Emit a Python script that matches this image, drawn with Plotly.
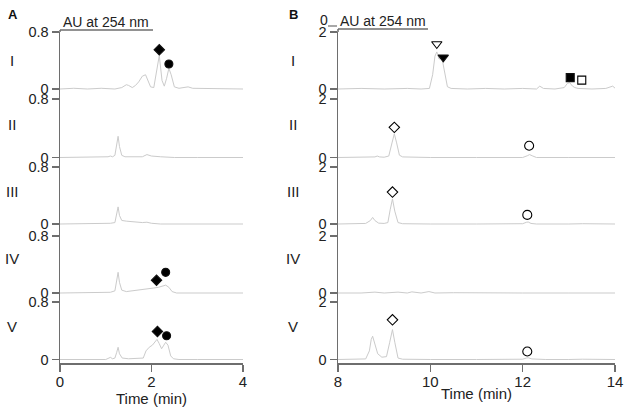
import plotly.graph_objects as go

# ---------------- DATA ----------------
row_labels = ["I", "II", "III", "IV", "V"]

# Panel A (0-4 min), AU at 254 nm
a1_t = [0, 0.3, 0.6, 0.9, 1.2, 1.35, 1.45, 1.5, 1.58, 1.65, 1.72, 1.8, 1.87, 1.93, 1.98, 2.05, 2.1, 2.17, 2.23, 2.28, 2.33, 2.38, 2.43, 2.5, 2.6, 2.8, 2.9, 3.0, 3.3, 3.6, 4.0]
a1_v = [0, 0.01, 0.0, 0.01, 0.0, 0.02, 0.06, 0.05, 0.02, 0.05, 0.1, 0.18, 0.2, 0.12, 0.03, 0.02, 0.2, 0.47, 0.12, 0.04, 0.15, 0.29, 0.2, 0.03, 0.01, 0.03, 0.01, 0.01, 0.0, 0.01, 0.0]

a2_t = [0, 0.5, 1.0, 1.05, 1.1, 1.15, 1.2, 1.24, 1.27, 1.3, 1.35, 1.42, 1.55, 1.8, 1.9, 2.0, 2.2, 2.5, 3.0, 3.5, 4.0]
a2_v = [0, 0, 0, 0.01, 0.02, 0.01, 0.03, 0.18, 0.29, 0.15, 0.03, 0.01, 0.01, 0.01, 0.04, 0.02, 0.01, 0, 0, 0, 0]

a3_t = [0, 0.5, 1.0, 1.1, 1.2, 1.24, 1.27, 1.3, 1.35, 1.45, 1.6, 1.8, 1.9, 2.0, 2.2, 2.5, 3.0, 3.5, 4.0]
a3_v = [0, 0, 0, 0.01, 0.02, 0.15, 0.24, 0.12, 0.05, 0.04, 0.03, 0.02, 0.025, 0.01, 0.0, 0, 0, 0, 0]

a4_t = [0, 0.5, 1.0, 1.1, 1.2, 1.24, 1.27, 1.3, 1.35, 1.45, 1.6, 1.8, 1.95, 2.05, 2.15, 2.25, 2.31, 2.38, 2.45, 2.55, 3.0, 3.5, 4.0]
a4_v = [0, 0, 0, 0.01, 0.03, 0.2, 0.29, 0.15, 0.04, 0.02, 0.03, 0.05, 0.06, 0.07, 0.08, 0.1, 0.11, 0.08, 0.02, 0.0, 0, 0, 0]

a5_t = [0, 0.5, 1.0, 1.07, 1.1, 1.15, 1.2, 1.24, 1.27, 1.3, 1.36, 1.5, 1.7, 1.82, 1.88, 1.95, 2.02, 2.08, 2.12, 2.17, 2.22, 2.27, 2.31, 2.36, 2.42, 2.48, 2.6, 3.0, 3.5, 4.0]
a5_v = [0, 0, 0, 0.02, 0.03, 0.01, 0.02, 0.1, 0.17, 0.08, 0.02, 0.01, 0.01, 0.02, 0.12, 0.17, 0.2, 0.25, 0.28, 0.22, 0.15, 0.2, 0.24, 0.2, 0.05, 0.01, 0, 0, 0, 0]

# Panel B (8-14 min)
b1_t = [8, 8.5, 9, 9.5, 9.8, 9.98, 10.05, 10.1, 10.14, 10.19, 10.25, 10.31, 10.37, 10.45, 10.6, 10.8, 11.2, 11.6, 12.0, 12.3, 12.37, 12.45, 12.7, 12.9, 12.97, 13.02, 13.08, 13.13, 13.2, 13.5, 13.8, 13.9, 13.95, 14.0]
b1_v = [0, 0.02, 0, 0.02, 0, 0.02, 0.5, 1.15, 1.3, 1.05, 1.1, 0.55, 0.08, 0.02, 0.01, 0.0, 0.02, 0.0, 0.02, 0.0, 0.1, 0.02, 0.0, 0.05, 0.2, 0.22, 0.1, 0.05, 0.02, 0.0, 0.02, 0.08, 0.1, 0.03]

b2_t = [8, 8.5, 8.8, 8.85, 8.9, 9.0, 9.1, 9.17, 9.22, 9.27, 9.33, 9.4, 9.6, 10, 11, 12.0, 12.1, 12.15, 12.22, 12.3, 13, 14]
b2_v = [0, 0, 0.02, 0.05, 0.02, 0.01, 0.05, 0.5, 0.81, 0.5, 0.08, 0.02, 0.01, 0, 0, 0, 0.06, 0.1, 0.05, 0, 0, 0]

b3_t = [8, 8.4, 8.6, 8.7, 8.75, 8.8, 8.88, 9.0, 9.08, 9.13, 9.18, 9.23, 9.3, 9.4, 9.6, 10, 11, 12, 12.08, 12.12, 12.18, 12.3, 13, 13.3, 14]
b3_v = [0, 0.01, 0.02, 0.12, 0.23, 0.12, 0.03, 0.02, 0.05, 0.5, 0.88, 0.45, 0.05, 0.01, 0, 0, 0, 0.01, 0.06, 0.07, 0.02, 0, 0, 0.01, 0]

b4_t = [8, 8.5, 8.8, 9.0, 9.3, 9.5, 9.6, 9.8, 9.97, 10.1, 10.5, 11, 12, 13, 14]
b4_v = [0, 0, 0.03, 0, 0.03, 0, 0.04, 0, 0.05, 0, 0.01, 0, 0, 0, 0]

b5_t = [8, 8.4, 8.6, 8.68, 8.72, 8.75, 8.8, 8.86, 8.95, 9.05, 9.12, 9.18, 9.23, 9.3, 9.4, 9.6, 10, 11, 12, 12.08, 12.12, 12.2, 12.5, 13, 13.3, 14]
b5_v = [0, 0.01, 0.02, 0.3, 0.7, 0.81, 0.55, 0.2, 0.08, 0.1, 0.6, 1.04, 0.6, 0.05, 0.01, 0, 0, 0, 0.01, 0.05, 0.06, 0.02, 0, 0, 0.01, 0]

# Peak markers: (row index, time, AU, symbol)
a_marks = [
    (0, 2.17, 0.55, "diamond"), (0, 2.38, 0.35, "circle"),
    (3, 2.11, 0.18, "diamond"), (3, 2.31, 0.29, "circle"),
    (4, 2.13, 0.39, "diamond"), (4, 2.33, 0.33, "circle"),
]
b_marks = [
    (0, 10.14, 1.58, "triangle-down-open"), (0, 10.28, 1.11, "triangle-down"),
    (0, 13.03, 0.40, "square"), (0, 13.28, 0.31, "square-open"),
    (1, 9.22, 1.03, "diamond-open"), (1, 12.14, 0.40, "circle-open"),
    (2, 9.18, 1.12, "diamond-open"), (2, 12.10, 0.32, "circle-open"),
    (4, 9.18, 1.38, "diamond-open"), (4, 12.10, 0.28, "circle-open"),
]

a_xticks = [0, 2, 4]
b_xticks = [8, 10, 12, 14]
a_ymax, a_ylab = 0.8, "0.8"
b_ymax, b_ylab = 2, "2"

traces_a = [(a1_t, a1_v), (a2_t, a2_v), (a3_t, a3_v), (a4_t, a4_v), (a5_t, a5_v)]
traces_b = [(b1_t, b1_v), (b2_t, b2_v), (b3_t, b3_v), (b4_t, b4_v), (b5_t, b5_v)]

# ---------------- LAYOUT ----------------
W, H = 629, 409
FONT = "Liberation Sans, Arial, sans-serif"
AXC = "#6e6e6e"
LINEC = "#cbcbcb"
MSIZE = {"diamond": 8, "circle": 8, "triangle-down-open": 9, "triangle-down": 9,
         "square": 8, "square-open": 8, "diamond-open": 8, "circle-open": 9}

def fx(px):
    return px / W

def fy(py):
    return 1 - py / H

TOPS = [32, 99, 167, 236, 302]
ZEROS = [89, 157.5, 224, 293, 359.5]
BOTTOM = 363
panels = [
    dict(x0=60, x1=243, xr=[0, 4], xt=a_xticks, ymax=a_ymax, ylab=a_ylab, tr=traces_a, marks=a_marks),
    dict(x0=338, x1=615, xr=[8, 14], xt=b_xticks, ymax=b_ymax, ylab=b_ylab, tr=traces_b, marks=b_marks),
]

fig = go.Figure()
layout = {}
for p, pan in enumerate(panels):
    for r in range(5):
        idx = p * 5 + r + 1
        xn = "x" if idx == 1 else f"x{idx}"
        yn = "y" if idx == 1 else f"y{idx}"
        top = TOPS[r]
        bot = TOPS[r + 1] if r < 4 else BOTTOM
        z = ZEROS[r]
        ymax = pan["ymax"]
        ymin = -ymax * (bot - z) / (z - top)
        t, v = pan["tr"][r]
        fig.add_trace(go.Scatter(x=t, y=v, mode="lines", xaxis=xn, yaxis=yn,
                                 line=dict(color=LINEC, width=1), showlegend=False,
                                 hoverinfo="skip"))
        mk = [m for m in pan["marks"] if m[0] == r]
        if mk:
            fig.add_trace(go.Scatter(
                x=[m[1] for m in mk], y=[m[2] for m in mk], mode="markers",
                xaxis=xn, yaxis=yn, showlegend=False, hoverinfo="skip",
                marker=dict(symbol=[m[3] for m in mk],
                            size=[MSIZE[m[3]] for m in mk],
                            color="#000", opacity=1,
                            line=dict(color="#111", width=1.1))))
        xa = dict(domain=[fx(pan["x0"]), fx(pan["x1"])], range=pan["xr"], anchor=yn,
                  showgrid=False, zeroline=False, fixedrange=True, automargin=False)
        if r < 4:
            xa.update(visible=False)
        else:
            xa.update(showline=True, linecolor=AXC, linewidth=1.5, ticks="outside",
                      ticklen=7, tickcolor=AXC, tickwidth=1.5, tickvals=pan["xt"],
                      ticklabelstandoff=-3,
                      tickfont=dict(family=FONT, size=15, color="#222"),
                      title=dict(text="Time (min)", font=dict(family=FONT, size=15, color="#222"),
                                 standoff=0))
        ya = dict(domain=[fy(bot), fy(top)], range=[ymin, ymax], anchor=xn,
                  showgrid=False, zeroline=False, showline=True, linecolor=AXC,
                  linewidth=1.5, ticks="outside", ticklen=7, tickcolor=AXC, tickwidth=1.2,
                  tickvals=[0, ymax], ticktext=["0", pan["ylab"]], automargin=False,
                  tickfont=dict(family=FONT, size=14.5, color="#222"), fixedrange=True)
        layout["xaxis" if idx == 1 else f"xaxis{idx}"] = xa
        layout["yaxis" if idx == 1 else f"yaxis{idx}"] = ya

annotations = []
row_mid = [60, 124, 191, 258, 326]
for r, lab in enumerate(row_labels):
    for xp in (12, 293):
        annotations.append(dict(x=fx(xp), y=fy(row_mid[r]), xref="paper", yref="paper",
                                text=lab, showarrow=False, xanchor="center", yanchor="middle",
                                font=dict(family=FONT, size=15, color="#222")))
annotations += [
    dict(x=fx(12.5), y=fy(14), xref="paper", yref="paper", text="<b>A</b>", showarrow=False,
         xanchor="center", yanchor="middle", font=dict(family=FONT, size=13, color="#111")),
    dict(x=fx(293), y=fy(14), xref="paper", yref="paper", text="<b>B</b>", showarrow=False,
         xanchor="center", yanchor="middle", font=dict(family=FONT, size=13, color="#111")),
    dict(x=fx(61), y=fy(22), xref="paper", yref="paper", text="AU at 254 nm", showarrow=False,
         xanchor="left", yanchor="middle", font=dict(family=FONT, size=14, color="#222")),
    dict(x=fx(338), y=fy(21), xref="paper", yref="paper", text="AU at 254 nm", showarrow=False,
         xanchor="left", yanchor="middle", font=dict(family=FONT, size=14, color="#222")),
    dict(x=fx(323.5), y=fy(20), xref="paper", yref="paper", text="0", showarrow=False,
         xanchor="center", yanchor="middle", font=dict(family=FONT, size=14, color="#222")),
]
shapes = [
    dict(type="line", xref="paper", yref="paper", x0=fx(60), x1=fx(153), y0=fy(30), y1=fy(30),
         line=dict(color=AXC, width=1.5)),
    dict(type="line", xref="paper", yref="paper", x0=fx(60), x1=fx(60), y0=fy(30), y1=fy(32),
         line=dict(color=AXC, width=1.5)),
    dict(type="line", xref="paper", yref="paper", x0=fx(338), x1=fx(428), y0=fy(29), y1=fy(29),
         line=dict(color=AXC, width=1.5)),
    dict(type="line", xref="paper", yref="paper", x0=fx(338), x1=fx(338), y0=fy(29), y1=fy(32),
         line=dict(color=AXC, width=1.5)),
    dict(type="line", xref="paper", yref="paper", x0=fx(328), x1=fx(337), y0=fy(26), y1=fy(26),
         line=dict(color=AXC, width=1.2)),
]

fig.update_layout(width=W, height=H, margin=dict(l=0, r=0, t=0, b=0, pad=0),
                  paper_bgcolor="white", plot_bgcolor="white", hovermode=False,
                  annotations=annotations, shapes=shapes, **layout)
fig.write_html("out.html", config={"displayModeBar": False, "staticPlot": True},
               post_script="document.body.style.margin='0px';document.body.style.overflow='hidden';document.documentElement.style.overflow='hidden';")
